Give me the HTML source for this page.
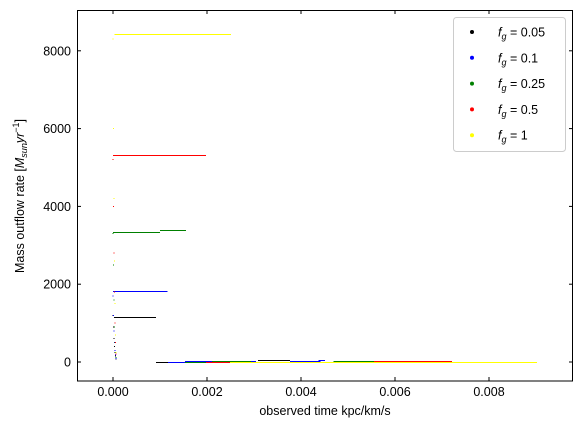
<!DOCTYPE html>
<html><head><meta charset="utf-8"><style>
body{margin:0;background:#fff;font-family:"Liberation Sans","DejaVu Sans",sans-serif;}
svg text{font-family:"Liberation Sans","DejaVu Sans",sans-serif;font-size:12.5px;fill:#000}
</style></head><body>
<svg id="chart" width="583" height="428">
<g id="marks" shape-rendering="crispEdges"></g>
<rect x="77.5" y="10.5" width="495" height="370.5" fill="none" stroke="#000" stroke-width="1"/>
<g id="axes"></g>
<text x="325" y="415" text-anchor="middle">observed time kpc/km/s</text>
<text transform="translate(24,196) rotate(-90)" text-anchor="middle">Mass outflow rate [<tspan font-style="italic">M</tspan><tspan font-style="italic" font-size="9" dy="3">sun</tspan><tspan font-style="italic" dy="-3">yr</tspan><tspan font-size="9" dy="-5">−1</tspan><tspan dy="5">]</tspan></text>
<g id="legend">
<rect x="453.5" y="17.5" width="112" height="134" rx="3" fill="#fff" stroke="#ccc"/>
</g>
</svg>
<script>
const seriesNames=["0.05","0.1","0.25","0.5","1"];
const seriesColors=["#000000","#0000ff","#008000","#ff0000","#ffff00"];
// step segments: start time, end time, rate
const segStart=[
 [0.00002,0.00092,0.00117,0.00211,0.00309],
 [0,0.00117,0.00153,0.00377,0.00437],
 [0,0.00100,0.00153,0.00211,0.00469],
 [0,0.00198,0.00255,0.00555,0.00650],
 [0.00003,0.00249,0.00306,0.00413]
];
const segEnd=[
 [0.00092,0.00117,0.00134,0.00294,0.00377],
 [0.00116,0.00153,0.00304,0.00442,0.00451],
 [0.00100,0.00155,0.00198,0.00294,0.00594],
 [0.00198,0.00249,0.00413,0.00697,0.00721],
 [0.00251,0.00306,0.00413,0.00902]
];
const segRate=[
 [1150,0,12,35,55],
 [1825,0,20,15,50],
 [3335,3385,0,25,35],
 [5320,-10,12,25,30],
 [8425,0,0,10]
];
// scattered early points near t=0
const dotTimes=[0.000005,0.00001,0.00002,0.00003,0.00004,0.00005,0.00006];
const dotRates=[
 [1200,900,600,400,250,150,80],
 [1700,1200,800,500,300,180,90],
 [3300,2500,1600,900,500,250,120],
 [5200,4000,2800,1800,1000,500,200],
 [8300,6000,4200,2600,1500,700,250]
];
const xTicks=[0,0.002,0.004,0.006,0.008];
const xTickLabels=["0.000","0.002","0.004","0.006","0.008"];
const yTicks=[0,2000,4000,6000,8000];
const yTickLabels=["0","2000","4000","6000","8000"];
const NS="http://www.w3.org/2000/svg";
function X(t){return 113+t*47000;}
function Y(r){return 362-r*0.0389;}
function mk(tag,attrs,parent){const e=document.createElementNS(NS,tag);for(const k in attrs)e.setAttribute(k,attrs[k]);parent.appendChild(e);return e;}
const marks=document.getElementById('marks'),axes=document.getElementById('axes');
seriesNames.forEach((n,s)=>{
 const g=mk('g',{},marks);
 
 
 segStart[s].forEach((t0,i)=>{
  const l=mk('line',{x1:X(t0),x2:X(segEnd[s][i]),y1:Math.round(Y(segRate[s][i]))+0.5,y2:Math.round(Y(segRate[s][i]))+0.5,stroke:seriesColors[s],'stroke-width':1},g);
  
  
 });
 dotTimes.forEach((t,i)=>{
  const d=mk('rect',{x:X(t)-0.5,y:Y(dotRates[s][i])-0.5,width:1,height:1,fill:seriesColors[s]},g);
  
  
 });
});
xTicks.forEach((t,i)=>{
 const x=X(t);
 const tk=mk('line',{x1:x,x2:x,y1:381,y2:377,stroke:'#000'},axes);
 
 
 const tt=mk('line',{x1:x,x2:x,y1:10,y2:14,stroke:'#000'},axes);
 
 
 const lb=mk('text',{x:x,y:396,'text-anchor':'middle'},axes);lb.textContent=xTickLabels[i];
 
 
});
yTicks.forEach((r,i)=>{
 const y=Y(r);
 const tk=mk('line',{x1:77,x2:81,y1:y,y2:y,stroke:'#000'},axes);
 
 
 const tr=mk('line',{x1:573,x2:569,y1:y,y2:y,stroke:'#000'},axes);
 
 
 const lb=mk('text',{x:71,y:y+4.5,'text-anchor':'end'},axes);lb.textContent=yTickLabels[i];
 
 
});
const leg=document.getElementById('legend');
seriesNames.forEach((n,s)=>{
 const y=32+s*25.8;
 const g=mk('g',{},leg);
 
 
 mk('circle',{cx:472,cy:y,r:2,fill:seriesColors[s]},g);
 const t=mk('text',{x:498,y:y+4.5},g);
 t.innerHTML='<tspan font-style="italic">f</tspan><tspan font-style="italic" font-size="9" dy="3">g</tspan><tspan dy="-3"> = '+n+'</tspan>';
});
</script>
</body></html>
